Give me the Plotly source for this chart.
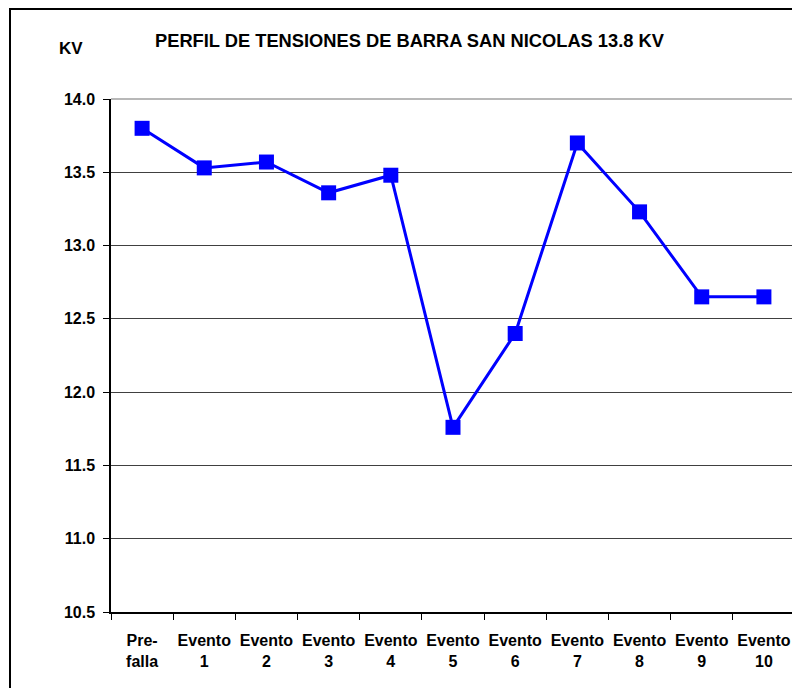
import plotly.graph_objects as go

categories = ["Pre-<br>falla", "Evento<br>1", "Evento<br>2", "Evento<br>3", "Evento<br>4", "Evento<br>5",
              "Evento<br>6", "Evento<br>7", "Evento<br>8", "Evento<br>9", "Evento<br>10"]
voltages = [13.80, 13.53, 13.57, 13.36, 13.48, 11.76, 12.40, 13.70, 13.23, 12.65, 12.65]
y_ticks = [10.5, 11.0, 11.5, 12.0, 12.5, 13.0, 13.5, 14.0]

FONT = "Liberation Sans, Arial, sans-serif"

fig = go.Figure()
fig.add_trace(go.Scatter(
    x=categories, y=voltages, mode="lines+markers",
    line=dict(color="#0000FF", width=3),
    marker=dict(symbol="square", size=15, color="#0000FF"),
    showlegend=False,
))

# page has an 8px body margin; work in figure coords = page coords - 8
OFF = 8
W, H = 800 - OFF, 688 - OFF
L, T = 111 - OFF, 99 - OFF
R = W - (795 - OFF)
B = H - (612 - OFF)
pw, ph = W - L - R, H - T - B

def px(x):
    return (x - OFF - L) / pw

def py(y):
    return 1 - (y - OFF - T) / ph

fig.update_layout(
    width=W, height=H,
    margin=dict(l=L, r=R, t=T, b=B, autoexpand=False),
    paper_bgcolor="white", plot_bgcolor="white",
    font=dict(family=FONT, size=16, color="black"),
    xaxis=dict(
        type="category", tickson="boundaries", ticks="outside", ticklen=6,
        tickcolor="black", showline=True, linecolor="black", linewidth=1.5,
        showgrid=False, tickfont=dict(family=FONT, size=16, color="black", weight="bold"),
        ticklabelstandoff=13, range=[-0.5, 10.5], tickangle=0, automargin=False,
    ),
    yaxis=dict(
        range=[10.5, 14.0], tickvals=y_ticks, tickformat=".1f", ticks="outside",
        ticklen=6, tickcolor="black", showline=True, linecolor="black", linewidth=1.5,
        showgrid=True, gridcolor="#404040", gridwidth=1, zeroline=False,
        tickfont=dict(family=FONT, size=16, color="black", weight="bold"),
        ticklabelstandoff=5, automargin=False,
    ),
    annotations=[
        dict(text="<b>PERFIL DE TENSIONES DE BARRA SAN NICOLAS 13.8 KV</b>",
             xref="paper", yref="paper", x=px(410), y=py(40),
             xanchor="center", yanchor="middle", showarrow=False,
             font=dict(family=FONT, size=18.3, color="black")),
        dict(text="<b>KV</b>", xref="paper", yref="paper",
             x=px(71), y=py(48),
             xanchor="center", yanchor="middle", showarrow=False,
             font=dict(family=FONT, size=17, color="black")),
    ],
    shapes=[
        dict(type="rect", xref="paper", yref="paper",
             x0=px(10), x1=1.2, y0=-0.3, y1=py(9),
             line=dict(color="black", width=2), fillcolor="rgba(0,0,0,0)", layer="below"),
        dict(type="line", xref="paper", yref="paper", x0=0, x1=1, y0=1, y1=1,
             line=dict(color="#A0A0A0", width=1.5)),
        dict(type="line", xref="paper", yref="paper", x0=1, x1=1, y0=0, y1=1,
             line=dict(color="#A0A0A0", width=1.5)),
    ],
)

fig.write_html("out.html")
